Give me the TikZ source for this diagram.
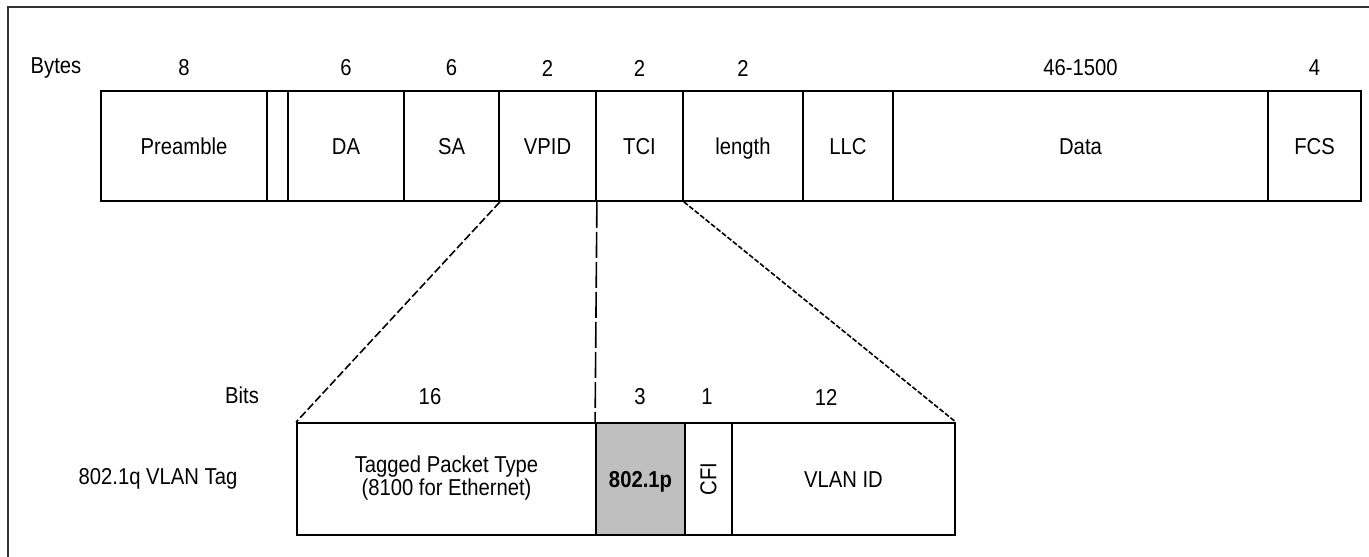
\documentclass[tikz,border=0pt]{standalone}
\usepackage{fontspec}
\setmainfont{Liberation Sans}[FakeStretch=0.88]
\begin{document}
\begin{tikzpicture}[x=1pt,y=-1pt,
  lbl/.style={inner sep=0pt,font=\fontsize{23}{26}\selectfont},
  box/.style={draw=black,line width=1.8pt,inner sep=0pt,font=\fontsize{23}{26}\selectfont},
  field/.style={box,minimum height=110pt,text height=16.5pt,text depth=0pt},
  bfield/.style={box,minimum height=112pt,text height=16.5pt,text depth=0pt},
  fanA/.style={line width=1.6pt,dash pattern=on 8pt off 3pt},
  fanB/.style={line width=1.6pt,dash pattern=on 26pt off 4pt},
  fanC/.style={line width=1.6pt,dash pattern=on 5pt off 2pt},
  frame/.style={draw=black!80,line width=2.2pt}]
\useasboundingbox (0,0) rectangle (1369,557);
% outer frame (only top and left edges lie inside the picture)
\draw[frame] (8,557) -- (8,7) -- (1369,7);
% top row
\node[lbl] (bytes) at (56,68) {Bytes};
\node[field,minimum width=166pt] (pre)  at (184,146) {Preamble};
\node[field,minimum width=21pt]  (sfd)  at (277.5,146) {};
\node[field,minimum width=116pt] (da)   at (346,146) {DA};
\node[field,minimum width=95pt]  (sa)   at (451.5,146) {SA};
\node[field,minimum width=97pt]  (vpid) at (547.5,146) {VPID};
\node[field,minimum width=87pt]  (tci)  at (639.5,146) {TCI};
\node[field,minimum width=120pt] (len)  at (743,146) {length};
\node[field,minimum width=90pt]  (llc)  at (848,146) {LLC};
\node[field,minimum width=375pt] (data) at (1080.5,146) {Data};
\node[field,minimum width=93pt]  (fcs)  at (1314.5,146) {FCS};
\node[lbl] (npre)  at (184,68) {8};
\node[lbl] (nda)   at (346,68) {6};
\node[lbl] (nsa)   at (451.5,68) {6};
\node[lbl] (nvpid) at (547.5,68) {2};
\node[lbl] (ntci)  at (639.5,68) {2};
\node[lbl] (nlen)  at (743,68) {2};
\node[lbl] (ndata) at (1080.5,68) {46-1500};
\node[lbl] (nfcs)  at (1314.5,68) {4};
% bottom row
\node[lbl] (bits) at (242,395) {Bits};
\node[lbl] (tag)  at (158,479) {802.1q VLAN Tag};
\node[box,minimum height=112pt,minimum width=299pt] (tpt) at (446.5,479)
  {\begin{tabular}{@{}c@{}}Tagged Packet Type\\[-3pt](8100 for Ethernet)\end{tabular}};
\node[bfield,minimum width=89pt,fill=black!25,font=\fontsize{23}{26}\selectfont\bfseries] (prio) at (640.5,479) {802.1p};
\node[box,minimum height=112pt,minimum width=47pt] (cfi) at (708.5,479) {\rotatebox{90}{CFI}};
\node[bfield,minimum width=223pt] (vlan) at (843.5,479) {VLAN ID};
\node[lbl] (n16) at (430,397) {16};
\node[lbl] (n3)  at (640,397) {3};
\node[lbl] (n1)  at (707,397) {1};
\node[lbl] (n12) at (826,397) {12};
% fan-out connectors
\draw[fanA] (sa.south east) -- (tpt.north west);
\draw[fanB] (vpid.south east) -- (prio.north west);
\draw[fanC] (tci.south east) -- (vlan.north east);
\end{tikzpicture}
\end{document}
